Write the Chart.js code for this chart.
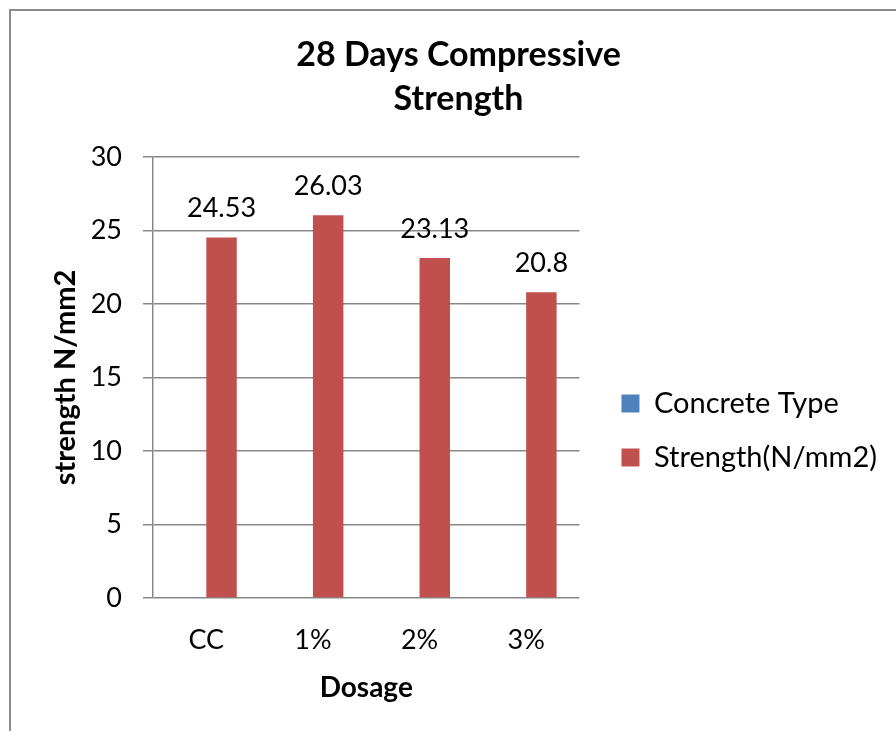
<!DOCTYPE html>
<html>
<head>
<meta charset="utf-8">
<script src="https://cdn.jsdelivr.net/npm/chart.js@4.4.1/dist/chart.umd.min.js"></script>
<style>
  html, body { margin: 0; padding: 0; background: #fff; overflow: hidden; }
  #frame { position: absolute; left: 9px; top: 9px; width: 1000px; height: 1000px; border: 2px solid #8c8c8c; }
  #wrap { position: absolute; left: 0; top: 0; width: 896px; height: 731px; }
</style>
</head>
<body>
<div id="frame"></div>
<div id="wrap"><canvas id="strengthChart" width="896" height="731"></canvas></div>
<script>
// values
const dosages = ['CC', '1%', '2%', '3%'];
const concreteType = [0, 0, 0, 0];
const strength = [24.53, 26.03, 23.13, 20.8];
const seriesNames = ['Concrete Type', 'Strength(N/mm2)'];
const yMin = 0;
const yMax = 30;
const yStep = 5;

Chart.defaults.font.family = 'Lato';
Chart.defaults.color = '#000';

// value labels on top of the red bars
const barLabels = {
    id: 'barLabels',
    afterDatasetsDraw(chart) {
        const ctx = chart.ctx;
        const meta = chart.getDatasetMeta(1);
        ctx.save();
        ctx.font = '27px Lato';
        ctx.fillStyle = '#000';
        ctx.textAlign = 'center';
        ctx.textBaseline = 'alphabetic';
        meta.data.forEach(function(bar, i) {
            ctx.fillText(String(strength[i]), bar.x, bar.y - 20);
        });
        ctx.restore();
    }
};

const gridGrey = '#888888';

const ctx = document.getElementById('strengthChart');
const strengthChart = new Chart(ctx, {
    type: 'bar',
    data: {
        labels: dosages,
        datasets: [
            {
                label: seriesNames[0],
                data: concreteType,
                backgroundColor: '#4F81BD',
                borderWidth: 0
            },
            {
                label: seriesNames[1],
                data: strength,
                backgroundColor: '#C0504D',
                borderWidth: 0
            }
        ]
    },
    options: {
        responsive: false,
        animation: false,
        barPercentage: 1,
        categoryPercentage: 0.5714,
        layout: {
            padding: { top: 10, left: 30, right: 9, bottom: 10 }
        },
        plugins: {
            title: {
                display: true,
                text: ['28 Days Compressive', 'Strength'],
                font: { size: 34, weight: 'bold', lineHeight: 44 / 34 },
                padding: { top: 23, bottom: 36 },
                color: '#000'
            },
            legend: {
                position: 'right',
                maxWidth: 420,
                // empty title only pushes the entries down to mid height
                title: { display: true, text: '', padding: { top: 120, bottom: 0 }, font: { size: 10, lineHeight: 1 } },
                labels: {
                    font: { size: 29 },
                    boxWidth: 18,
                    boxHeight: 18,
                    padding: 25,
                    color: '#000'
                }
            },
            tooltip: { enabled: false }
        },
        scales: {
            x: {
                grid: { display: false, drawTicks: false },
                border: { display: false },
                ticks: { font: { size: 27 }, padding: 26, color: '#000' },
                title: {
                    display: true,
                    text: 'Dosage',
                    font: { size: 28, weight: 'bold' },
                    padding: { top: 0, bottom: 16 },
                    color: '#000'
                },
                afterFit: function(scale) { scale.height = 123; }
            },
            y: {
                min: yMin,
                max: yMax,
                ticks: { stepSize: yStep, font: { size: 27 }, padding: 21, color: '#000' },
                grid: { color: gridGrey, lineWidth: 1.5, tickLength: 10 },
                border: { display: true, color: gridGrey, width: 1.5 },
                title: {
                    display: true,
                    text: 'strength N/mm2',
                    font: { size: 29, weight: 'bold' },
                    padding: { top: 18, bottom: 0 },
                    color: '#000'
                },
                afterFit: function(scale) { scale.width = 123; }
            },
            yGap: {
                axis: 'y',
                position: 'right',
                grid: { display: false, drawTicks: false },
                border: { display: false },
                ticks: { display: false },
                afterFit: function(scale) { scale.width = 17; }
            }
        }
    },
    plugins: [barLabels]
});
</script>
</body>
</html>
